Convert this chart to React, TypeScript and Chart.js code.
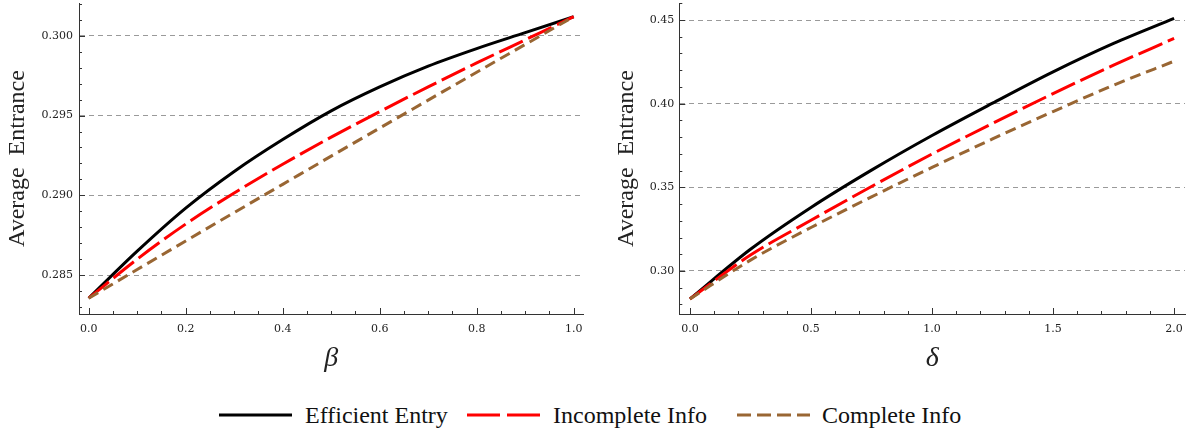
import React, { useEffect, useRef } from "react";
import { Chart, registerables } from "chart.js";

Chart.register(...registerables);

// ---------- data ----------
const betaValues = [0, 0.1, 0.2, 0.3, 0.4, 0.5, 0.6, 0.7, 0.8, 0.9, 1.0];
const efficientBeta = [0.28355, 0.2865, 0.2892, 0.2915, 0.2935, 0.2953, 0.2968, 0.2981, 0.2992, 0.3002, 0.3012];
const incompleteBeta = [0.28355, 0.286, 0.2882, 0.29015, 0.29195, 0.29365, 0.29525, 0.2968, 0.2983, 0.29975, 0.3012];
const completeBeta = [0.28355, 0.28535, 0.28714, 0.28892, 0.29069, 0.29246, 0.29422, 0.29597, 0.29772, 0.29946, 0.3012];

const deltaValues = [0, 0.25, 0.5, 0.75, 1.0, 1.25, 1.5, 1.75, 2.0];
const efficientDelta = [0.2833, 0.313, 0.338, 0.3603, 0.381, 0.4003, 0.419, 0.436, 0.451];
const incompleteDelta = [0.2833, 0.3095, 0.3303, 0.3505, 0.3699, 0.3882, 0.406, 0.423, 0.439];
const completeDelta = [0.2833, 0.3065, 0.326, 0.3443, 0.3619, 0.3789, 0.3953, 0.411, 0.4254];

const betaTicks = [0, 0.2, 0.4, 0.6, 0.8, 1.0];
const betaYTicks = [0.285, 0.29, 0.295, 0.3];
const deltaTicks = [0, 0.5, 1.0, 1.5, 2.0];
const deltaYTicks = [0.3, 0.35, 0.4, 0.45];

const seriesNames = ["Efficient Entry", "Incomplete Info", "Complete Info"];
const seriesColors = ["#000000", "#ff0000", "#996633"];
const seriesDash: number[][] = [[], [26, 6], [11, 6]];

const yTitle = "Average  Entrance";
const tickFontFamily = "'DejaVu Serif', 'Liberation Serif', serif";

// ---------- helpers ----------
type TickOpts = {
  xMinorStart: number;
  xMinorEnd: number;
  xMinorStep: number;
  xMajor: number[];
  yMinorStart: number;
  yMinorEnd: number;
  yMinorStep: number;
  yMajor: number[];
};

function frameTicksPlugin(o: TickOpts) {
  return {
    id: "frameTicks",
    afterDraw(chart: any) {
      const { ctx, chartArea, scales } = chart;
      const xs = scales.x;
      const ys = scales.y;
      ctx.save();
      ctx.strokeStyle = "#333";
      ctx.lineWidth = 1;
      ctx.beginPath();
      const isMajor = (arr: number[], v: number) => arr.some((m) => Math.abs(m - v) < 1e-9);
      const nx = Math.round((o.xMinorEnd - o.xMinorStart) / o.xMinorStep);
      for (let i = 0; i <= nx; i++) {
        const v = o.xMinorStart + i * o.xMinorStep;
        const len = isMajor(o.xMajor, v) ? 6 : 3;
        const px = Math.round(xs.getPixelForValue(v)) + 0.5;
        ctx.moveTo(px, chartArea.bottom);
        ctx.lineTo(px, chartArea.bottom - len);
      }
      const ny = Math.round((o.yMinorEnd - o.yMinorStart) / o.yMinorStep);
      for (let i = 0; i <= ny; i++) {
        const v = o.yMinorStart + i * o.yMinorStep;
        const len = isMajor(o.yMajor, v) ? 6 : 3;
        const py = Math.round(ys.getPixelForValue(v)) + 0.5;
        ctx.moveTo(chartArea.left, py);
        ctx.lineTo(chartArea.left + len, py);
      }
      ctx.stroke();
      ctx.restore();
    },
  };
}

type PanelCfg = {
  xs: number[];
  series: number[][];
  xMin: number;
  xMax: number;
  yMin: number;
  yMax: number;
  xTicks: number[];
  yTicks: number[];
  yDecimals: number;
  yAxisWidth: number;
  yTitlePad: number;
  yLabelPad: number;
  padRight: number;
  xTitle: string;
  ticks: TickOpts;
};

function makeConfig(c: PanelCfg): any {
  return {
    type: "line",
    data: {
      datasets: c.series.map((ys, si) => ({
        label: seriesNames[si],
        data: c.xs.map((x, i) => ({ x, y: ys[i] })),
        borderColor: seriesColors[si],
        backgroundColor: seriesColors[si],
        borderWidth: 3,
        borderDash: seriesDash[si],
        borderCapStyle: "butt",
        fill: false,
        pointRadius: 0,
        cubicInterpolationMode: "monotone",
        order: 2 - si,
      })),
    },
    options: {
      animation: false,
      responsive: false,
      events: [],
      layout: { padding: { left: 0, top: 3, right: c.padRight, bottom: 0 } },
      plugins: { legend: { display: false }, tooltip: { enabled: false } },
      scales: {
        x: {
          type: "linear",
          min: c.xMin,
          max: c.xMax,
          afterBuildTicks: (s: any) => {
            s.ticks = c.xTicks.map((v) => ({ value: v }));
          },
          afterFit: (s: any) => {
            s.height = 76;
            s.paddingLeft = 0;
            s.paddingRight = 0;
            s.paddingTop = 0;
            s.paddingBottom = 0;
          },
          grid: { display: false, drawTicks: false },
          border: { display: true, color: "#333", width: 1 },
          ticks: {
            padding: 9,
            color: "#222",
            autoSkip: false,
            maxRotation: 0,
            font: { family: tickFontFamily, size: 11 },
            callback: (v: any) => Number(v).toFixed(1),
          },
          title: {
            display: true,
            text: c.xTitle,
            color: "#222",
            font: { family: "Liberation Serif", size: 28, style: "italic", lineHeight: 1 },
            padding: { top: 0, bottom: 17 },
          },
        },
        y: {
          type: "linear",
          min: c.yMin,
          max: c.yMax,
          afterBuildTicks: (s: any) => {
            s.ticks = c.yTicks.map((v) => ({ value: v }));
          },
          afterFit: (s: any) => {
            s.width = c.yAxisWidth;
            s.paddingLeft = 0;
            s.paddingRight = 0;
            s.paddingTop = 0;
            s.paddingBottom = 0;
          },
          grid: { display: true, drawTicks: false, color: "#9a9a9a", lineWidth: 1 },
          border: { display: true, color: "#333", width: 1, dash: [5, 4] },
          ticks: {
            padding: c.yLabelPad,
            color: "#222",
            autoSkip: false,
            font: { family: tickFontFamily, size: 11 },
            callback: (v: any) => Number(v).toFixed(c.yDecimals),
          },
          title: {
            display: true,
            text: yTitle,
            color: "#222",
            font: { family: "Liberation Serif", size: 24, lineHeight: 1 },
            padding: { top: c.yTitlePad, bottom: 0 },
          },
        },
      },
    },
    plugins: [frameTicksPlugin(c.ticks)],
  };
}

const leftCfg: PanelCfg = {
  xs: betaValues,
  series: [efficientBeta, incompleteBeta, completeBeta],
  xMin: -0.02,
  xMax: 1.02,
  yMin: 0.28256,
  yMax: 0.30206,
  xTicks: betaTicks,
  yTicks: betaYTicks,
  yDecimals: 3,
  yAxisWidth: 79,
  yTitlePad: 6,
  yLabelPad: 6,
  padRight: 620 - 583.4,
  xTitle: "β",
  ticks: {
    xMinorStart: 0,
    xMinorEnd: 1,
    xMinorStep: 0.05,
    xMajor: betaTicks,
    yMinorStart: 0.283,
    yMinorEnd: 0.302,
    yMinorStep: 0.001,
    yMajor: betaYTicks,
  },
};

const rightCfg: PanelCfg = {
  xs: deltaValues,
  series: [efficientDelta, incompleteDelta, completeDelta],
  xMin: -0.044,
  xMax: 2.045,
  yMin: 0.2743,
  yMax: 0.46016,
  xTicks: deltaTicks,
  yTicks: deltaYTicks,
  yDecimals: 2,
  yAxisWidth: 79.3,
  yTitlePad: 15,
  yLabelPad: 5,
  padRight: 8,
  xTitle: "δ",
  ticks: {
    xMinorStart: 0,
    xMinorEnd: 2,
    xMinorStep: 0.1,
    xMajor: deltaTicks,
    yMinorStart: 0.28,
    yMinorEnd: 0.46,
    yMinorStep: 0.01,
    yMajor: deltaYTicks,
  },
};

function LegendItem(props: { idx: number; lineLeft: number; textLeft: number; dash: string }) {
  const { idx, lineLeft, textLeft, dash } = props;
  return (
    <>
      <svg
        width={73}
        height={10}
        style={{ position: "absolute", left: lineLeft, top: 410 }}
      >
        <line
          x1={0}
          y1={5}
          x2={73}
          y2={5}
          stroke={seriesColors[idx]}
          strokeWidth={3}
          strokeDasharray={dash}
        />
      </svg>
      <span
        style={{
          position: "absolute",
          left: textLeft,
          top: 403,
          fontFamily: "'Liberation Serif', serif",
          fontSize: 24,
          lineHeight: "24px",
          whiteSpace: "nowrap",
          color: "#111",
        }}
      >
        {seriesNames[idx]}
      </span>
    </>
  );
}

export default function App() {
  const leftRef = useRef<HTMLCanvasElement | null>(null);
  const rightRef = useRef<HTMLCanvasElement | null>(null);

  useEffect(() => {
    const charts: Chart[] = [];
    if (leftRef.current) charts.push(new Chart(leftRef.current, makeConfig(leftCfg)));
    if (rightRef.current) charts.push(new Chart(rightRef.current, makeConfig(rightCfg)));
    return () => {
      charts.forEach((c) => c.destroy());
    };
  }, []);

  return (
    <div
      style={{
        position: "absolute",
        left: 0,
        top: 0,
        width: 1193,
        height: 434,
        background: "#ffffff",
        overflow: "hidden",
      }}
    >
      <canvas
        ref={leftRef}
        width={620}
        height={390}
        style={{ position: "absolute", left: 0, top: 0, width: 620, height: 390 }}
      />
      <canvas
        ref={rightRef}
        width={593}
        height={390}
        style={{ position: "absolute", left: 600, top: 0, width: 593, height: 390 }}
      />
      <LegendItem idx={0} lineLeft={219} textLeft={305} dash="" />
      <LegendItem idx={1} lineLeft={467} textLeft={553} dash="33 7" />
      <LegendItem idx={2} lineLeft={737} textLeft={822} dash="14 6" />
    </div>
  );
}
